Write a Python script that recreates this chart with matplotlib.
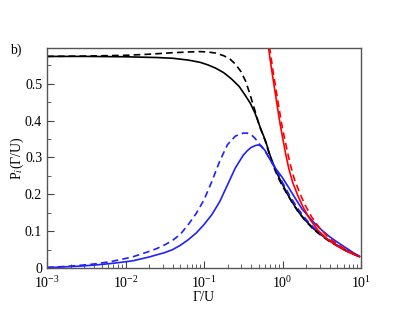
import numpy as np
import matplotlib
matplotlib.use("Agg")
import matplotlib.pyplot as plt

plt.rcParams['font.family'] = ['Liberation Serif', 'DejaVu Serif']
plt.rcParams['mathtext.fontset'] = 'stix'

# values, x given as log10(Gamma/U)
black_solid_lx = [-3, -2.5, -2, -1.8, -1.6, -1.4, -1.2, -1.05, -0.95, -0.85, -0.75, -0.65,
                  -0.55, -0.48, -0.41, -0.35, -0.29, -0.22, -0.16, -0.1, -0.05, 0.0, 0.07,
                  0.15, 0.22, 0.29, 0.4, 0.5, 0.6, 0.7, 0.8, 0.9, 0.98]
black_solid_y = [0.574, 0.574, 0.573, 0.572, 0.571, 0.569, 0.564, 0.558, 0.551, 0.542, 0.530, 0.513,
                 0.492, 0.470, 0.447, 0.420, 0.385, 0.347, 0.307, 0.272, 0.248, 0.227, 0.198,
                 0.170, 0.148, 0.130, 0.106, 0.089, 0.074, 0.061, 0.049, 0.039, 0.031]

black_dash_lx = [-3, -2.5, -2, -1.7, -1.4, -1.2, -1.05, -0.95, -0.85, -0.75, -0.67, -0.6,
                 -0.53, -0.47, -0.42, -0.37, -0.33, -0.29, -0.22, -0.16, -0.1, -0.05, 0.0,
                 0.1, 0.2, 0.3, 0.4, 0.5, 0.6, 0.7, 0.8, 0.9, 0.98]
black_dash_y = [0.574, 0.575, 0.577, 0.580, 0.584, 0.586, 0.587, 0.586, 0.583, 0.576, 0.567, 0.553,
                0.533, 0.507, 0.475, 0.440, 0.412, 0.383, 0.345, 0.303, 0.268, 0.243, 0.222,
                0.186, 0.152, 0.126, 0.104, 0.087, 0.072, 0.060, 0.048, 0.038, 0.031]

blue_solid_lx = [-3, -2.8, -2.6, -2.4, -2.2, -2.0, -1.9, -1.8, -1.7, -1.6, -1.5, -1.4,
                 -1.3, -1.2, -1.1, -1.0, -0.9, -0.8, -0.7, -0.6, -0.5, -0.45, -0.4, -0.35,
                 -0.31, -0.27, -0.22, -0.18, -0.12, -0.06, 0.0, 0.08, 0.16, 0.25, 0.33,
                 0.42, 0.5, 0.6, 0.7, 0.8, 0.9, 0.98]
blue_solid_y = [0.001, 0.003, 0.005, 0.008, 0.012, 0.017, 0.020, 0.025, 0.030, 0.036, 0.042, 0.050,
                0.062, 0.077, 0.095, 0.118, 0.145, 0.180, 0.226, 0.272, 0.306, 0.318, 0.327, 0.332,
                0.334, 0.331, 0.318, 0.302, 0.280, 0.262, 0.245, 0.218, 0.190, 0.160, 0.140,
                0.119, 0.103, 0.085, 0.070, 0.056, 0.042, 0.032]

blue_dash_lx = [-3, -2.8, -2.6, -2.4, -2.2, -2.0, -1.9, -1.8, -1.7, -1.6, -1.5, -1.4,
                -1.3, -1.2, -1.1, -1.0, -0.9, -0.8, -0.7, -0.6, -0.5, -0.45, -0.4, -0.35,
                -0.3, -0.22, -0.16, -0.1, 0.0, 0.1, 0.2, 0.3, 0.4, 0.5, 0.6, 0.7, 0.8,
                0.9, 0.98]
blue_dash_y = [0.002, 0.004, 0.007, 0.011, 0.017, 0.026, 0.031, 0.038, 0.045, 0.053, 0.063, 0.075,
               0.092, 0.118, 0.148, 0.185, 0.235, 0.290, 0.335, 0.358, 0.366, 0.366, 0.362, 0.352,
               0.338, 0.316, 0.296, 0.275, 0.232, 0.193, 0.160, 0.132, 0.109, 0.090, 0.075, 0.062,
               0.050, 0.040, 0.032]

red_solid_lx = [-0.18, -0.14, -0.1, -0.06, -0.03, 0.0, 0.04, 0.08, 0.13, 0.2, 0.27, 0.35,
                0.45, 0.56, 0.65, 0.75, 0.85, 0.98]
red_solid_y = [0.60, 0.54, 0.485, 0.43, 0.39, 0.355, 0.31, 0.27, 0.232, 0.194, 0.162, 0.132,
               0.103, 0.080, 0.066, 0.053, 0.042, 0.031]

red_dash_lx = [-0.165, -0.125, -0.085, -0.045, -0.01, 0.02, 0.06, 0.1, 0.15, 0.22, 0.29, 0.37,
               0.47, 0.58, 0.67, 0.77, 0.87, 0.98]
red_dash_y = [0.60, 0.54, 0.487, 0.435, 0.39, 0.358, 0.318, 0.28, 0.242, 0.203, 0.17, 0.139,
              0.109, 0.084, 0.069, 0.055, 0.043, 0.032]

blue = '#2020ff'
fig = plt.figure(figsize=(4.07, 3.15), dpi=100)
ax = fig.add_axes([0.1155, 0.149, 0.7715, 0.70])

def p(lx, y, color, ls):
    ax.plot(10 ** np.array(lx), y, color=color, lw=1.2, ls=ls)

dash = (0, (4, 2.5))
p(black_solid_lx, black_solid_y, 'black', '-')
p(black_dash_lx, black_dash_y, 'black', dash)
p(blue_solid_lx, blue_solid_y, blue, '-')
p(blue_dash_lx, blue_dash_y, blue, dash)
p(red_solid_lx, red_solid_y, 'red', '-')
p(red_dash_lx, red_dash_y, 'red', dash)

ax.set_xscale('log')
ax.set_xlim(1e-3, 1e1)
ax.set_ylim(0, 0.598)
ax.set_yticks([0, 0.1, 0.2, 0.3, 0.4, 0.5])
ax.set_yticklabels(['0', '0.1', '0.2', '0.3', '0.4', '0.5'])
ax.set_yticks(np.arange(0.05, 0.6, 0.1), minor=True)
ax.tick_params(which='both', direction='in', labelsize=10, color='#444444')
ax.tick_params(which='major', length=5)
ax.tick_params(which='minor', length=3)
ax.tick_params(axis='x', pad=5)
for s in ax.spines.values():
    s.set_color('#555555')
    s.set_linewidth(1.0)

ax.set_xlabel('Γ/U', fontsize=10, labelpad=0)
ax.set_ylabel('P$_i$(Γ/U)', fontsize=10, labelpad=-1)
fig.text(0.025, 0.828, 'b)', fontsize=10)

fig.savefig('out.png', dpi=100)
